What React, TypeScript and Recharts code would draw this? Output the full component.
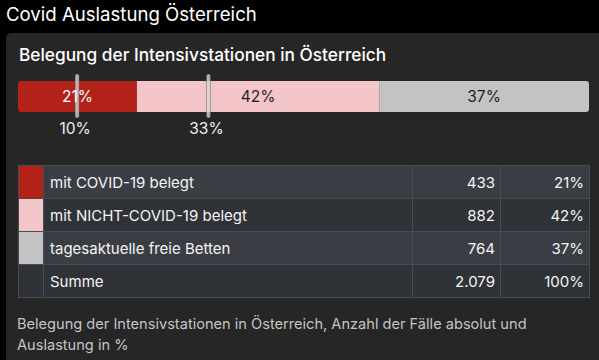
import { BarChart, Bar, XAxis, YAxis, ReferenceLine, LabelList } from 'recharts';

const categories = ['mit COVID-19 belegt', 'mit NICHT-COVID-19 belegt', 'tagesaktuelle freie Betten'];
const counts = [433, 882, 764];
const percents = [21, 42, 37];
const seriesKeys = ['covid', 'nonCovid', 'free'];
const colors = ['#b22219', '#f4c5c9', '#c3c3c3'];
const labelColors = ['#ffffff', '#1e1e1e', '#1e1e1e'];
const markers = [10, 33];
const sumLabel = 'Summe';
const sumCount = '2.079';
const sumPercent = '100%';

const total = counts.reduce((a, b) => a + b, 0);

const FONT = 'Inter, "Noto Sans", sans-serif';

// one stacked row built from the arrays above
const chartData = [
  seriesKeys.reduce(
    (row, key, i) => ({ ...row, [key]: counts[i] }),
    { name: 'Belegung' } as Record<string, string | number>
  ),
];

function MarkerShape(props: any) {
  const { x1, y1, y2 } = props;
  return (
    <rect
      x={x1}
      y={Math.min(y1, y2)}
      width={4}
      height={Math.abs(y2 - y1)}
      rx={2}
      fill="rgba(215,215,215,0.78)"
      stroke="rgba(70,70,70,0.5)"
      strokeWidth={0.8}
    />
  );
}

export default function App() {
  const rowBg = ['#3a3e44', '#2f3237', '#3a3e44', '#2f3237'];
  const cell = {
    borderRight: '1px solid #474c53',
    borderBottom: '1px solid #474c53',
    height: 32,
    padding: 0,
  };

  return (
    <div
      style={{
        position: 'fixed',
        left: 0,
        top: 0,
        width: 599,
        height: 360,
        background: '#000',
        fontFamily: FONT,
        overflow: 'hidden',
      }}
    >
      <div style={{ position: 'absolute', left: 6, top: 2, fontSize: 18.6, color: '#fff', lineHeight: '24px' }}>
        Covid Auslastung Österreich
      </div>
      <div
        style={{
          position: 'absolute',
          left: 6,
          top: 33,
          width: 610,
          height: 340,
          background: '#262626',
          borderRadius: 5,
        }}
      />
      <div
        style={{
          position: 'absolute',
          left: 19,
          top: 44,
          fontSize: 17.3,
          fontWeight: 500,
          color: '#fff',
          lineHeight: '22px',
        }}
      >
        Belegung der Intensivstationen in Österreich
      </div>

      <div style={{ position: 'absolute', left: 18, top: 70 }}>
        <BarChart
          width={571}
          height={80}
          data={chartData}
          layout="vertical"
          margin={{ top: 4, right: 0, left: 0, bottom: 32 }}
          barCategoryGap={0}
        >
          <XAxis type="number" hide domain={[0, total]} />
          <YAxis type="category" dataKey="name" hide />
          {seriesKeys.map((key, i) => (
            <Bar
              key={key}
              dataKey={key}
              stackId="a"
              fill={colors[i]}
              barSize={31}
              isAnimationActive={false}
              radius={i === 0 ? [3, 0, 0, 3] : i === seriesKeys.length - 1 ? [0, 3, 3, 0] : 0}
            >
              <LabelList
                dataKey={key}
                position="center"
                formatter={() => `${percents[i]}%`}
                style={{ fill: labelColors[i], fontSize: 15.5, fontFamily: FONT }}
              />
            </Bar>
          ))}
          {markers.map((m) => (
            <ReferenceLine
              key={m}
              x={(m / 100) * total}
              shape={MarkerShape}
              label={{
                value: `${m}%`,
                position: 'bottom',
                offset: 5,
                fill: '#f0f0f0',
                fontSize: 15.5,
                fontFamily: FONT,
              }}
            />
          ))}
        </BarChart>
      </div>

      <table
        style={{
          position: 'absolute',
          left: 18,
          top: 165,
          width: 571,
          borderCollapse: 'collapse',
          tableLayout: 'fixed',
          fontSize: 15,
          color: '#f4f4f4',
          borderTop: '1px solid #474c53',
          borderLeft: '1px solid #474c53',
        }}
      >
        <colgroup>
          <col style={{ width: 25 }} />
          <col style={{ width: 369 }} />
          <col style={{ width: 88 }} />
          <col style={{ width: 89 }} />
        </colgroup>
        <tbody>
          {[...categories, sumLabel].map((label, i) => (
            <tr key={label} style={{ background: rowBg[i] }}>
              <td style={{ ...cell, background: i < colors.length ? colors[i] : rowBg[i] }} />
              <td style={{ ...cell, paddingLeft: 6 }}>{label}</td>
              <td style={{ ...cell, textAlign: 'right', paddingRight: 5 }}>
                {i < counts.length ? counts[i] : sumCount}
              </td>
              <td style={{ ...cell, textAlign: 'right', paddingRight: 5 }}>
                {i < percents.length ? `${percents[i]}%` : sumPercent}
              </td>
            </tr>
          ))}
        </tbody>
      </table>

      <div
        style={{
          position: 'absolute',
          left: 17,
          top: 314,
          fontSize: 14.6,
          lineHeight: '21px',
          color: '#c4c4c4',
        }}
      >
        Belegung der Intensivstationen in Österreich, Anzahl der Fälle absolut und
        <br />
        Auslastung in %
      </div>
    </div>
  );
}
